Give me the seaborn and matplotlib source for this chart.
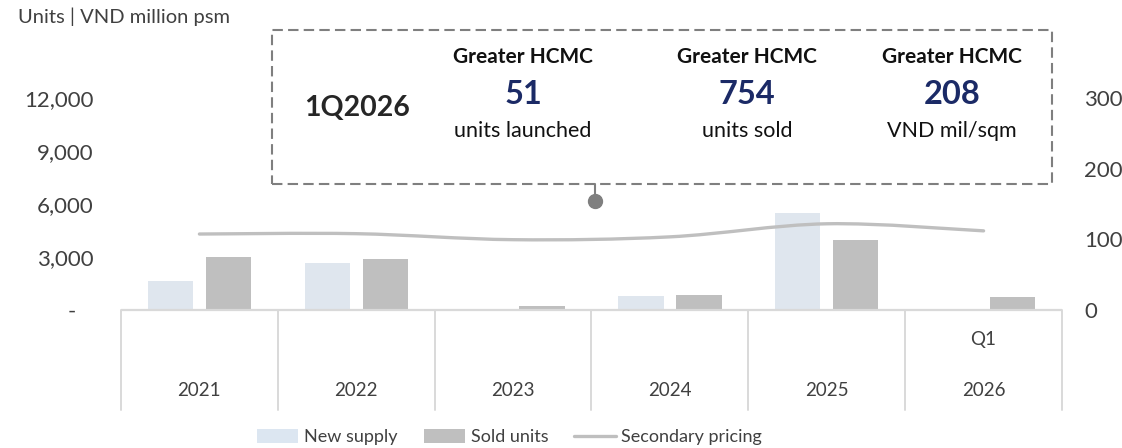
import numpy as np
import pandas as pd
import matplotlib
matplotlib.use("Agg")
import matplotlib.pyplot as plt
import seaborn as sns
from matplotlib.path import Path
from matplotlib.patches import PathPatch, Rectangle, Patch
from matplotlib.lines import Line2D

# ---------------- data ----------------
years = ["2021", "2022", "2023", "2024", "2025", "2026"]
new_supply = [1640, 2640, 0, 810, 5490, 51]
sold_units = [2990, 2880, 250, 850, 3960, 754]
secondary_pricing = [107.5, 108, 99.5, 103.5, 122, 112]

left_ticks = [0, 3000, 6000, 9000, 12000]
left_tick_labels = ["-   ", "3,000", "6,000", "9,000", "12,000"]
right_ticks = [0, 100, 200, 300]
right_tick_labels = ["0", "100", "200", "300"]

series_names = ["New supply", "Sold units", "Secondary pricing"]
box_period = "1Q2026"
box_region = ["Greater HCMC", "Greater HCMC", "Greater HCMC"]
box_values = ["51", "754", "208"]
box_units = ["units launched", "units sold", "VND mil/sqm"]
unit_label = "Units | VND million psm"
sub_label_last = "Q1"

# ---------------- style ----------------
sns.set_theme(style="white")
plt.rcParams["font.family"] = ["Lato", "DejaVu Sans"]

C_NEW = "#DCE6F1"
C_SOLD = "#BFBFBF"
C_LINE = "#BFBFBF"
C_TXT = "#404040"
C_GRID = "#D9D9D9"
C_NAVY = "#1B2A66"

W, H = 1122, 448
fig = plt.figure(figsize=(W / 100, H / 100), dpi=100)
fx = lambda px: px / W
fy = lambda py: 1 - py / H

ax_l, ax_r, ax_t, ax_b = 121, 1062, 45, 310
ax = fig.add_axes([fx(ax_l), fy(ax_b), fx(ax_r - ax_l), (ax_b - ax_t) / H])

df = pd.DataFrame({
    "year": years * 2,
    "series": [series_names[0]] * len(years) + [series_names[1]] * len(years),
    "value": new_supply + sold_units,
})
sns.barplot(data=df, x="year", y="value", hue="series", order=years,
            hue_order=series_names[:2], palette=[C_NEW, C_SOLD],
            width=0.74, gap=0.22, linewidth=0, legend=False, ax=ax)

ax.set_xlim(-0.5, len(years) - 0.5)
ax.set_ylim(0, 15000)
ax.set_xlabel("")
ax.set_ylabel("")
for s in ax.spines.values():
    s.set_visible(False)
ax.set_yticks(left_ticks)
ax.set_yticklabels(left_tick_labels)
ax.tick_params(axis="y", length=0, pad=20, labelsize=16, labelcolor=C_TXT)
ax.set_xticks(range(len(years)))
ax.set_xticklabels(years)
ax.tick_params(axis="x", length=0, pad=57.6, labelsize=13.5, labelcolor=C_TXT)
for lbl in ax.get_xticklabels():
    lbl.set_va("center")

# category axis: baseline and separators
ax_h = ax_b - ax_t
ax.plot([-0.5, len(years) - 0.5], [0, 0], color=C_GRID, lw=1.6,
        clip_on=False, zorder=1, solid_capstyle="butt")
trans_x = ax.get_xaxis_transform()
sep_bottom = -(410 - ax_b) / ax_h
for b in np.arange(-0.5, len(years), 1.0):
    ax.plot([b, b], [0, sep_bottom], color=C_GRID, lw=1.4,
            transform=trans_x, clip_on=False)
ax.text(len(years) - 1, -(340 - ax_b) / ax_h, sub_label_last, transform=trans_x,
        ha="center", va="center", fontsize=13.5, color=C_TXT)

# secondary axis with smoothed line
ax2 = ax.twinx()
ax2.set_ylim(0, 375)
for s in ax2.spines.values():
    s.set_visible(False)
ax2.set_yticks(right_ticks)
ax2.set_yticklabels(right_tick_labels)
ax2.tick_params(axis="y", length=0, pad=16, labelsize=16, labelcolor=C_TXT)
ax2.grid(False)
ax.grid(False)


def smooth_path(xs, ys):
    pts = np.column_stack([xs, ys]).astype(float)
    n = len(pts)
    verts = [pts[0]]
    codes = [Path.MOVETO]
    for i in range(n - 1):
        p0 = pts[i - 1] if i > 0 else pts[i]
        p1, p2 = pts[i], pts[i + 1]
        p3 = pts[i + 2] if i + 2 < n else pts[i + 1]
        verts += [p1 + (p2 - p0) / 6, p2 - (p3 - p1) / 6, p2]
        codes += [Path.CURVE4] * 3
    return Path(verts, codes)


ax2.add_patch(PathPatch(smooth_path(np.arange(len(years)), secondary_pricing),
                        fill=False, edgecolor=C_LINE, lw=2.4, capstyle="round"))

# unit label
fig.text(fx(18), fy(17), unit_label, ha="left", va="center", fontsize=14.5,
         color=C_TXT)

# info box
fig.add_artist(Rectangle((fx(272), fy(184)), fx(1052 - 272), (184 - 30) / H,
                         transform=fig.transFigure, fill=False,
                         edgecolor="#7F7F7F", lw=1.5, ls=(0, (5, 2.5))))
fig.add_artist(Line2D([fx(595), fx(595)], [fy(184), fy(197)],
                      transform=fig.transFigure, color="#7F7F7F", lw=1.5))
fig.add_artist(Line2D([fx(595)], [fy(201.5)], transform=fig.transFigure,
                      marker="o", markersize=10, color="#7F7F7F", lw=0))
fig.text(fx(357), fy(108), box_period, ha="center", va="center",
         fontsize=20.5, fontweight="bold", color="#262626")
for cx, reg, val, unit in zip([523, 747, 952], box_region, box_values, box_units):
    fig.text(fx(cx), fy(57), reg, ha="center", va="center", fontsize=15,
             fontweight="bold", color="#111111")
    fig.text(fx(cx), fy(95), val, ha="center", va="center", fontsize=23.5,
             fontweight="bold", color=C_NAVY)
    fig.text(fx(cx), fy(131), unit, ha="center", va="center", fontsize=15.5,
             color="#111111")

# legend
handles = [Patch(facecolor=C_NEW, edgecolor="none"),
           Patch(facecolor=C_SOLD, edgecolor="none"),
           Line2D([0], [0], color=C_LINE, lw=2.4)]
leg = fig.legend(handles, series_names, loc="center",
                 bbox_to_anchor=(fx(509.5), fy(437)), ncol=3, frameon=False,
                 fontsize=13, handlelength=2.3, handleheight=0.8,
                 handletextpad=0.3, columnspacing=1.45, borderpad=0)
for t in leg.get_texts():
    t.set_color(C_TXT)

fig.savefig("out.png", dpi=100)
